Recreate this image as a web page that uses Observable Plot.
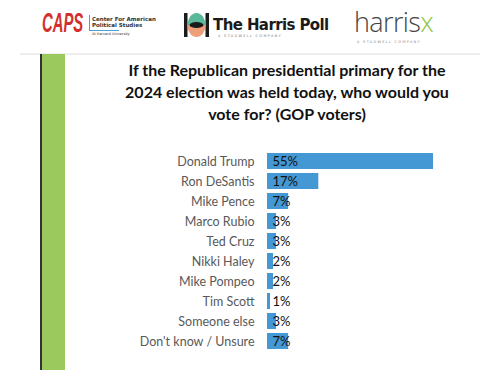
<!DOCTYPE html>
<html>
<head>
<meta charset="utf-8">
<script src="https://cdn.jsdelivr.net/npm/d3@7"></script>
<script src="https://cdn.jsdelivr.net/npm/@observablehq/plot@0.6"></script>
<style>
  html, body { margin: 0; padding: 0; background: #fff; }
  #page { position: relative; width: 500px; height: 386px; overflow: hidden; font-family: Lato, "Open Sans", sans-serif; }
  .abs { position: absolute; line-height: 1; white-space: nowrap; }
  #title { left: 80px; width: 414px; top: 59px; text-align: center; font-weight: bold; font-size: 16px; line-height: 22px; color: #111; font-family: Lato, sans-serif; white-space: normal; }
  #chart { left: 0; top: 140px; line-height: normal; }
</style>
</head>
<body>
<div id="page">
  <!-- header logos -->
  <div class="abs" style="left:42px;top:10px;font-family:'Liberation Sans',sans-serif;font-weight:bold;font-style:italic;font-size:27px;color:#d2302e;transform:scaleX(0.55);transform-origin:left top;">CAPS</div>
  <div class="abs" style="left:89px;top:15px;width:1px;height:16px;background:#4aa0d8;"></div>
  <div class="abs" style="left:89px;top:30px;width:30px;height:1px;background:#4aa0d8;"></div>
  <div class="abs" style="left:92px;top:16px;font-family:'DejaVu Sans',sans-serif;font-weight:bold;font-size:5.5px;line-height:6px;color:#333;">Center For American<br>Political Studies</div>
  <div class="abs" style="left:92px;top:33px;font-family:'DejaVu Sans',sans-serif;font-size:3.5px;color:#333;">At Harvard University</div>

  <svg class="abs" style="left:184px;top:13px;" width="25" height="24" viewBox="0 0 25 24">
    <rect x="0" y="0" width="3.5" height="24" fill="#1b1b1b"/>
    <rect x="21.5" y="0" width="3.5" height="24" fill="#1b1b1b"/>
    <path d="M3.5,12 A9,12 0 0 1 21.5,12 Z" fill="#5cb89a"/>
    <path d="M3.5,12 A9,12 0 0 0 21.5,12 Z" fill="#ec9f78"/>
    <ellipse cx="12.5" cy="12" rx="7" ry="3" fill="#1b1b1b"/>
  </svg>
  <div class="abs" style="left:213px;top:18px;font-family:'DejaVu Sans',sans-serif;font-weight:bold;font-size:15px;color:#1b1b1b;letter-spacing:-0.6px;">The Harris Poll</div>
  <div class="abs" style="left:218px;top:35px;font-family:'DejaVu Sans',sans-serif;font-size:3.5px;letter-spacing:1.3px;color:#777;">A STAGWELL COMPANY</div>

  <div class="abs" style="left:354px;top:8px;font-family:'Open Sans',sans-serif;font-weight:300;font-size:27px;color:#444;letter-spacing:-0.6px;">harris<span style="color:#8dc63f;">x</span></div>
  <div class="abs" style="left:357px;top:40.5px;font-family:'DejaVu Sans',sans-serif;font-size:3.5px;letter-spacing:1.3px;color:#888;">A STAGWELL COMPANY</div>

  <!-- frame -->
  <div class="abs" style="left:20px;top:53px;width:460px;height:2px;background:#eeeeee;"></div>
  <div class="abs" style="left:40px;top:54px;width:1.5px;height:316px;background:#333;"></div>
  <div class="abs" style="left:41.5px;top:54px;width:23.5px;height:316px;background:#9cc95d;"></div>

  <div id="title" class="abs">If the Republican presidential primary for the<br>2024 election was held today, who would you<br>vote for? (GOP voters)</div>

  <div id="chart" class="abs"></div>
</div>
<script>
const candidates = ["Donald Trump", "Ron DeSantis", "Mike Pence", "Marco Rubio", "Ted Cruz", "Nikki Haley", "Mike Pompeo", "Tim Scott", "Someone else", "Don't know / Unsure"];
const shares = [55, 17, 7, 3, 3, 2, 2, 1, 3, 7];

const data = candidates.map((c, i) => ({candidate: c, share: shares[i]}));

const chart = Plot.plot({
  width: 500,
  height: 222,
  marginLeft: 267,
  marginRight: 67,
  marginTop: 8.5,
  marginBottom: 8.9,
  style: {fontFamily: "Lato, sans-serif", fontSize: "12.5px", background: "transparent"},
  x: {domain: [0, 55], axis: null},
  y: {domain: candidates, padding: 0.2, label: null, tickSize: 0, tickPadding: 13},
  marks: [
    Plot.barX(data, {x: "share", y: "candidate", fill: "#4498d3"}),
    Plot.text(data, {x: 0, y: "candidate", text: d => d.share + "%", textAnchor: "start", dx: 5, fill: "#111", fontSize: 13}),
    Plot.axisY({tickSize: 0, tickPadding: 13, label: null, color: "#595959", fontSize: 12.5})
  ]
});
document.getElementById("chart").appendChild(chart);
</script>
</body>
</html>
